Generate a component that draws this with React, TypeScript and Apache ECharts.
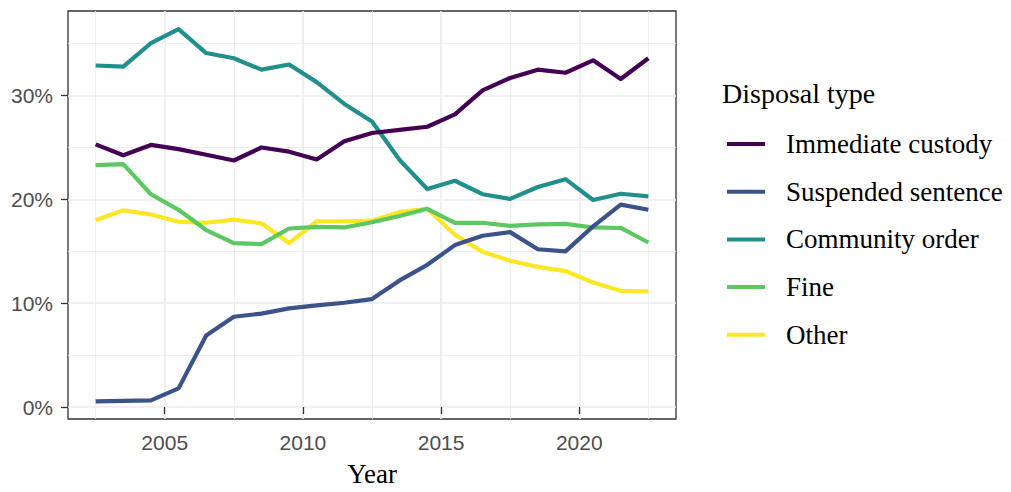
import React, { useEffect, useRef } from "react";
import * as echarts from "echarts";

const years = [2002.5, 2003.5, 2004.5, 2005.5, 2006.5, 2007.5, 2008.5, 2009.5, 2010.5, 2011.5, 2012.5, 2013.5, 2014.5, 2015.5, 2016.5, 2017.5, 2018.5, 2019.5, 2020.5, 2021.5, 2022.5];

const immediateCustody = [25.3, 24.25, 25.25, 24.85, 24.3, 23.75, 25.0, 24.6, 23.85, 25.6, 26.4, 26.7, 27.0, 28.2, 30.5, 31.7, 32.5, 32.2, 33.4, 31.6, 33.6];
const suspendedSentence = [0.55, 0.6, 0.65, 1.8, 6.9, 8.7, 9.0, 9.5, 9.8, 10.05, 10.4, 12.2, 13.7, 15.6, 16.5, 16.85, 15.2, 15.0, 17.4, 19.5, 19.0];
const communityOrder = [32.9, 32.8, 35.05, 36.4, 34.1, 33.6, 32.5, 33.0, 31.3, 29.2, 27.5, 23.8, 21.0, 21.8, 20.5, 20.05, 21.2, 21.95, 19.95, 20.55, 20.3];
const fine = [23.3, 23.4, 20.5, 19.0, 17.05, 15.8, 15.7, 17.2, 17.35, 17.3, 17.8, 18.4, 19.1, 17.75, 17.75, 17.45, 17.6, 17.65, 17.3, 17.25, 15.85];
const other = [18.0, 18.95, 18.55, 17.85, 17.75, 18.05, 17.7, 15.8, 17.9, 17.9, 17.95, 18.8, 19.1, 16.6, 14.95, 14.1, 13.5, 13.1, 12.0, 11.2, 11.15];

const seriesNames = ["Immediate custody", "Suspended sentence", "Community order", "Fine", "Other"];
const seriesValues = [immediateCustody, suspendedSentence, communityOrder, fine, other];
const seriesColors = ["#440154", "#3B528B", "#21908C", "#5DC863", "#FDE725"];

const xMajorTicks = [2005, 2010, 2015, 2020];
const xMinorTicks = [2002.5, 2007.5, 2012.5, 2017.5, 2022.5];
const yMajorTicks = [0, 10, 20, 30];
const yMinorTicks = [5, 15, 25, 35];

const SANS = "Liberation Sans, Arial, sans-serif";
const SERIF = "Liberation Serif, Times New Roman, serif";

export default function App() {
  const ref = useRef<HTMLDivElement>(null);
  useEffect(() => {
    if (!ref.current) return;
    const chart = echarts.init(ref.current, undefined, { renderer: "svg" });
    const xMin = 2001.5, xMax = 2023.5, yMin = -1.15, yMax = 38.15;
    const series: any[] = [];
    for (let k = seriesNames.length - 1; k >= 0; k--) {
      series.push({
        name: seriesNames[k],
        type: "line",
        symbol: "none",
        showSymbol: false,
        silent: true,
        color: seriesColors[k],
        lineStyle: { width: 4.2, color: seriesColors[k], cap: "butt", join: "round" },
        emphasis: { disabled: true },
        data: years.map((y, i) => [y, seriesValues[k][i]]),
        xAxisIndex: 0,
        yAxisIndex: 0,
      });
    }
    chart.setOption({
      animation: false,
      backgroundColor: "#ffffff",
      title: {
        text: "Disposal type",
        left: 717,
        top: 74,
        textStyle: { fontFamily: SERIF, fontSize: 28, fontWeight: "normal", color: "#000000" },
      },
      legend: {
        orient: "vertical",
        left: 722,
        top: 124,
        icon: "rect",
        itemWidth: 38,
        itemHeight: 4,
        itemGap: 17.7,
        selectedMode: false,
        data: seriesNames,
        textStyle: { fontFamily: SERIF, fontSize: 27, color: "#000000", lineHeight: 30, padding: [0, 0, 0, 16] },
      },
      grid: {
        left: 68,
        top: 11,
        right: 335,
        bottom: 66,
        show: true,
        backgroundColor: "#ffffff",
        borderColor: "#333333",
        borderWidth: 1.3,
        containLabel: false,
      },
      xAxis: [
        {
          type: "value",
          min: xMin,
          max: xMax,
          position: "bottom",
          axisLine: { show: false },
          axisTick: { show: true, length: 7, lineStyle: { color: "#333333", width: 1.3 }, customValues: xMajorTicks },
          axisLabel: { customValues: xMajorTicks, formatter: (v: number) => String(v), fontFamily: SANS, fontSize: 21, color: "#4D4D4D", margin: 13 },
          splitLine: { show: true, lineStyle: { color: "#EBEBEB", width: 1.6 } },
          name: "Year",
          nameLocation: "middle",
          nameGap: 41,
          nameTextStyle: { fontFamily: SERIF, fontSize: 27, color: "#000000" },
        },
        {
          type: "value",
          min: xMin,
          max: xMax,
          position: "top",
          axisLine: { show: false },
          axisTick: { show: false, customValues: xMinorTicks },
          axisLabel: { show: false, customValues: xMinorTicks },
          splitLine: { show: true, lineStyle: { color: "#EBEBEB", width: 0.8 } },
        },
      ],
      yAxis: [
        {
          type: "value",
          min: yMin,
          max: yMax,
          position: "left",
          axisLine: { show: false },
          axisTick: { show: true, length: 7, lineStyle: { color: "#333333", width: 1.3 }, customValues: yMajorTicks },
          axisLabel: { customValues: yMajorTicks, formatter: (v: number) => v + "%", fontFamily: SANS, fontSize: 21, color: "#4D4D4D", margin: 15 },
          splitLine: { show: true, lineStyle: { color: "#EBEBEB", width: 1.6 } },
        },
        {
          type: "value",
          min: yMin,
          max: yMax,
          position: "right",
          axisLine: { show: false },
          axisTick: { show: false, customValues: yMinorTicks },
          axisLabel: { show: false, customValues: yMinorTicks },
          splitLine: { show: true, lineStyle: { color: "#EBEBEB", width: 0.8 } },
        },
      ],
      series,
    });
    return () => chart.dispose();
  }, []);
  return <div ref={ref} style={{ position: "absolute", left: 0, top: 0, width: 1011, height: 492 }} />;
}
